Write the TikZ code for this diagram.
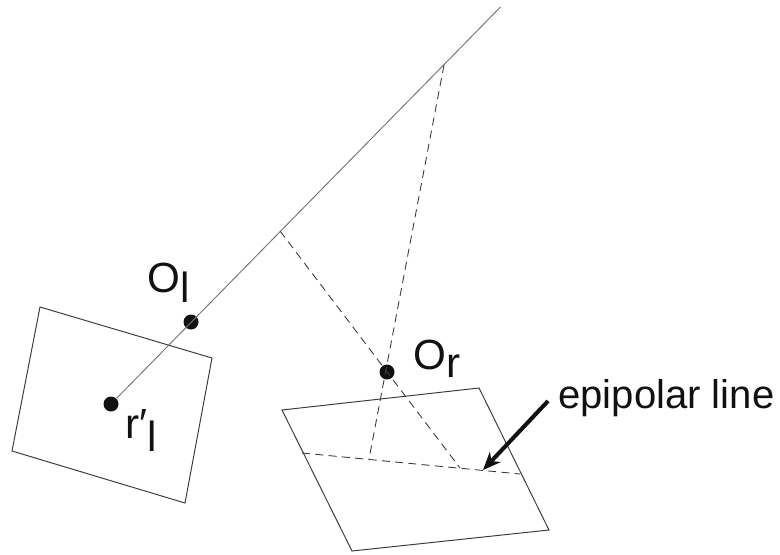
\documentclass[tikz,border=0pt]{standalone}
\usepackage{fontspec}
\setmainfont{Liberation Sans}
\usepackage{xcolor}
\usetikzlibrary{arrows.meta}
\definecolor{ink}{HTML}{111111}
\definecolor{linegray}{HTML}{3A3A3A}
\definecolor{raygray}{HTML}{777777}
\tikzset{
  >={Stealth[length=3.6mm,width=3mm]},
  plane/.style={draw=linegray,line width=.55pt,line join=miter},
  ray/.style={draw=raygray,line width=.55pt},
  dashline/.style={draw=linegray,line width=.5pt,dash pattern=on 4.6pt off 3pt},
  point/.style={circle,minimum size=.3cm,inner sep=0pt,fill=ink},
  lab/.style={font=\fontsize{24}{28}\selectfont,text=ink,inner sep=0pt,anchor=base west},
  callout/.style={->,line width=2.3pt,color=ink},
}
\begin{document}
\begin{tikzpicture}[x=1cm,y=1cm]
  \useasboundingbox (0,0) rectangle (15.6,-11.08);
  % left image plane
  \coordinate (la) at (.8,-6.14);
  \coordinate (lb) at (4.24,-7.16);
  \coordinate (lc) at (3.7,-10.06);
  \coordinate (ld) at (.24,-9.02);
  \draw[plane] (la)--(lb)--(lc)--(ld)--cycle;
  % right image plane
  \coordinate (ra) at (5.64,-8.2);
  \coordinate (rb) at (9.58,-7.76);
  \coordinate (rc) at (10.98,-10.6);
  \coordinate (rd) at (7.04,-11.02);
  \draw[plane] (ra)--(rb)--(rc)--(rd)--cycle;

  \node[point] (ol) at (3.82,-6.44) {};
  \node[point] (rl) at (2.22,-8.08) {};
  \node[point] (or) at (7.74,-7.44) {};

  % viewing ray and its projection
  \coordinate (rayend) at (10.01,-.14);
  \coordinate (far) at (8.88,-1.3);
  \coordinate (near) at (5.6,-4.62);
  \coordinate (epa) at (6.04,-9.06);
  \coordinate (epb) at (10.4,-9.48);
  \coordinate (farimg) at (7.38,-9.18);
  \coordinate (nearimg) at (9.2,-9.36);
  \draw[ray] (rl)--(rayend);
  \draw[dashline] (far)--(farimg);
  \draw[dashline] (near)--(nearimg);
  \draw[dashline] (epa)--(epb);

  \node[lab] (oltext) at (2.94,-5.84) {O\raisebox{-.24em}{l}};
  \node[lab] (ortext) at (8.26,-7.38) {O\raisebox{-.2em}{r}};
  \node[lab] (rltext) at (2.5,-8.76) {r′\raisebox{-.33em}{l}};
  \node[lab,font=\fontsize{22.8}{26}\selectfont] (epitext) at (11.16,-8.16) {epipolar line};
  \coordinate (tip) at (9.66,-9.4);
  \coordinate (tail) at (10.96,-8.02);
  \draw[callout] (tail)--(tip);
\end{tikzpicture}
\end{document}
